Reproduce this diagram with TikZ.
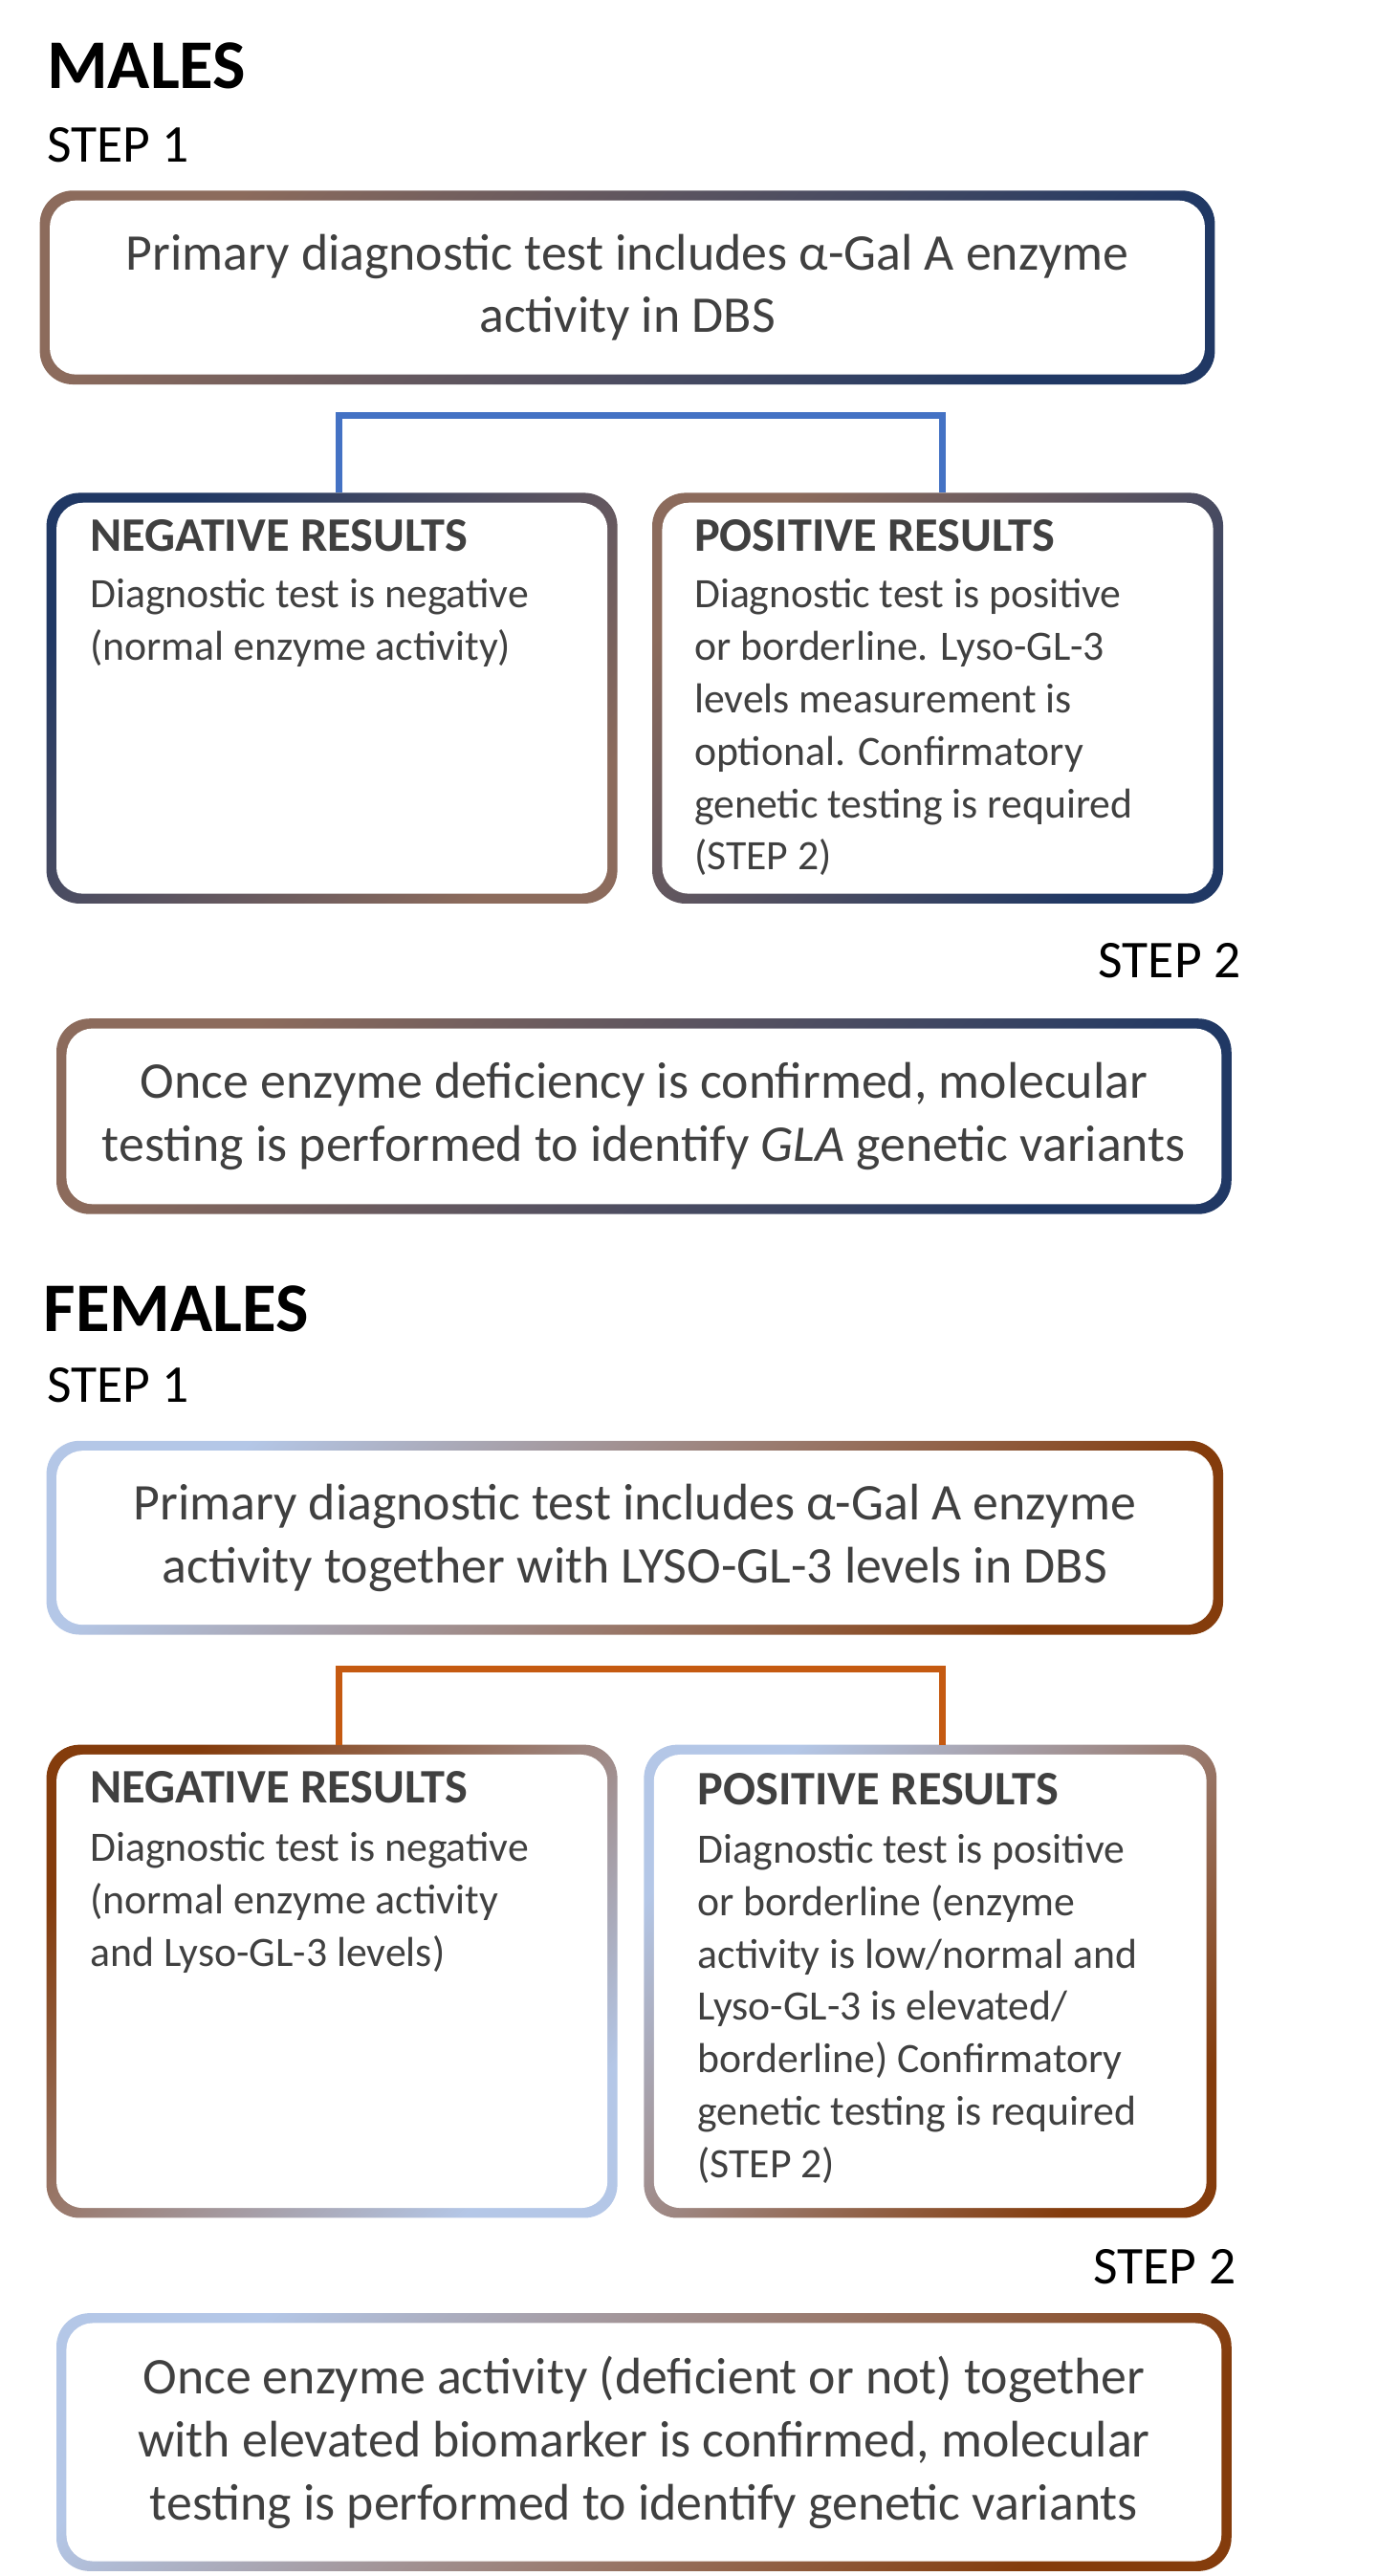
\documentclass[tikz,border=0pt]{standalone}
\usepackage{fontspec}
\setmainfont{Carlito}
\usetikzlibrary{calc,positioning}
\definecolor{txt}{HTML}{404040}
\definecolor{lblue}{HTML}{B4C7E7}
\definecolor{navy}{HTML}{203864}
\definecolor{mbrown}{HTML}{8C6B5C}
\definecolor{fbrown}{HTML}{843C0C}
\definecolor{fmid}{HTML}{9A7466}
\definecolor{conblue}{HTML}{4472C4}
\definecolor{conorange}{HTML}{C55A11}
\tikzset{
  head/.style={anchor=west,inner sep=0pt,font=\fontsize{21}{24}\selectfont\bfseries},
  stepl/.style={inner sep=0pt,font=\fontsize{16}{19}\selectfont},
  maintxt/.style={align=center,inner sep=0pt,text=txt,font=\fontsize{15.5}{19}\selectfont},
  ttl/.style={anchor=north west,inner sep=0pt,text=txt,font=\fontsize{14.5}{17}\selectfont\bfseries},
  body/.style={anchor=north west,align=left,inner sep=0pt,text=txt,font=\fontsize{12.6}{15.8}\selectfont},
  conn/.style={line width=2pt}
}
% gradient border box: name, x1, y1, x2, y2, colours, angle
\newcommand\gbox[9]{%
  \shade[rounded corners=10pt,left color=#6,middle color=#7,right color=#8,shading angle=#9]
    (#2,#3) rectangle (#4,#5);
  \fill[white,rounded corners=8pt] ($(#2,#3)+(6,6)$) rectangle ($(#4,#5)+(-6,-6)$);
  \coordinate (#1) at ($(#2,#3)!0.5!(#4,#5)$);
  \coordinate (#1-n) at ($(#2,#3)!0.5!(#4,#3)$);
}
\begin{document}
\begin{tikzpicture}[x=0.5pt,y=-0.495pt]
\useasboundingbox (0,0) rectangle (830,1568);

% males
\node[head] (males) at (28,40) {MALES};
\node[stepl,anchor=west] (stepM1) at (28,88) {STEP 1};
\gbox{boxM1}{24}{116}{732}{234}{mbrown}{lblue}{navy}{45}
\node[maintxt] at (boxM1) {Primary diagnostic test includes α-Gal A enzyme\\activity in DBS};

\gbox{negM}{28}{300}{372}{550}{navy}{lblue}{mbrown}{45}
\gbox{posM}{393}{300}{737}{550}{mbrown}{lblue}{navy}{45}
\draw[conn,conblue] (204,300) -- (204,253) -- (568,253) -- (568,300);
\node[ttl] (negMt) at (54,316) {NEGATIVE RESULTS};
\node[body] at (54,352) {Diagnostic test is negative\\(normal enzyme activity)};
\node[ttl] (posMt) at (418,316) {POSITIVE RESULTS};
\node[body] at (418,352) {Diagnostic test is positive\\or borderline. Lyso-GL-3\\levels measurement is\\optional. Confirmatory\\genetic testing is required\\(STEP 2)};

\node[stepl,anchor=east] (stepM2) at (748,585) {STEP 2};
\gbox{boxM2}{34}{620}{742}{739}{mbrown}{lblue}{navy}{45}
\node[maintxt] at (boxM2) {Once enzyme deficiency is confirmed, molecular\\testing is performed to identify \emph{GLA} genetic variants};

% females
\node[head] (females) at (26,797) {FEMALES};
\node[stepl,anchor=west] (stepF1) at (28,843) {STEP 1};
\gbox{boxF1}{28}{877}{737}{995}{lblue}{fmid}{fbrown}{45}
\node[maintxt] at (boxF1) {Primary diagnostic test includes α-Gal A enzyme\\activity together with LYSO-GL-3 levels in DBS};

\gbox{negF}{28}{1062}{372}{1350}{fbrown}{fmid}{lblue}{45}
\gbox{posF}{388}{1062}{733}{1350}{lblue}{fmid}{fbrown}{45}
\draw[conn,conorange] (204,1062) -- (204,1016) -- (568,1016) -- (568,1062);
\node[ttl] (negFt) at (54,1078) {NEGATIVE RESULTS};
\node[body] at (54,1115) {Diagnostic test is negative\\(normal enzyme activity\\and Lyso-GL-3 levels)};
\node[ttl] (posFt) at (420,1079) {POSITIVE RESULTS};
\node[body] at (420,1116) {Diagnostic test is positive\\or borderline (enzyme\\activity is low/normal and\\Lyso-GL-3 is elevated/\\borderline) Confirmatory\\genetic testing is required\\(STEP 2)};

\node[stepl,anchor=east] (stepF2) at (745,1380) {STEP 2};
\gbox{boxF2}{34}{1408}{742}{1565}{lblue}{fmid}{fbrown}{45}
\node[maintxt] at (boxF2) {Once enzyme activity (deficient or not) together\\with elevated biomarker is confirmed, molecular\\testing is performed to identify genetic variants};
\end{tikzpicture}
\end{document}
